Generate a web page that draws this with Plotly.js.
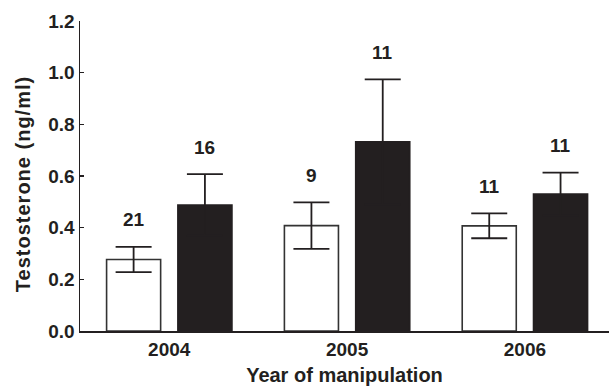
<!DOCTYPE html>
<html>
<head>
<meta charset="utf-8">
<script src="https://cdn.plot.ly/plotly-3.0.1.min.js"></script>
<style>
html,body{margin:0;padding:0;background:#fff;}
#chart{width:609px;height:386px;}
.g-ytitle{transform:translate(0px,8px);}
.g-ytitle text{letter-spacing:1px;}
</style>
</head>
<body>
<div id="chart"></div>
<script>
var years = ['2004', '2005', '2006'];
var controlMean = [0.277, 0.408, 0.407];
var controlErr = [0.049, 0.090, 0.048];
var controlN = [21, 9, 11];
var treatMean = [0.488, 0.732, 0.530];
var treatErr = [0.119, 0.242, 0.083];
var treatN = [16, 11, 11];
var yTicks = [0, 0.2, 0.4, 0.6, 0.8, 1.0, 1.2];

var ink = '#231f20';
var BARGAP = 0.198, GROUPGAP = 0.242;
var slotOffset = (1 - BARGAP) / 4; // centre offset of each bar within a group (category units)

var control = {
  type: 'bar', x: years, y: controlMean, name: 'control',
  marker: {color: '#ffffff', line: {color: '#333333', width: 1.6}},
  error_y: {type: 'data', array: controlErr, visible: true, color: ink, thickness: 1.8, width: 18}
};
var treat = {
  type: 'bar', x: years, y: treatMean, name: 'treatment',
  marker: {color: ink, line: {color: ink, width: 1.6}},
  error_y: {type: 'data', array: treatErr, visible: true, color: ink, thickness: 1.8, width: 18}
};

var annotations = [];
years.forEach(function (yr, i) {
  annotations.push({x: i - slotOffset, y: controlMean[i] + controlErr[i], xref: 'x', yref: 'y',
    text: String(controlN[i]), showarrow: false, yshift: 27, font: {size: 19, color: ink, weight: 700}});
  annotations.push({x: i + slotOffset, y: treatMean[i] + treatErr[i], xref: 'x', yref: 'y',
    text: String(treatN[i]), showarrow: false, yshift: 27, font: {size: 19, color: ink, weight: 700}});
});

var layout = {
  width: 609, height: 386,
  margin: {l: 80, r: 0, t: 21, b: 55},
  paper_bgcolor: '#fff', plot_bgcolor: '#fff',
  font: {family: '"Liberation Sans", Arial, sans-serif', color: ink, size: 19, weight: 700},
  showlegend: false,
  barmode: 'group', bargap: BARGAP, bargroupgap: GROUPGAP,
  xaxis: {
    type: 'category', range: [-0.502, 2.473],
    showline: true, linecolor: ink, linewidth: 2, ticks: '', showgrid: false, zeroline: false,
    tickfont: {size: 19, weight: 700, color: ink},
    title: {text: 'Year of manipulation', font: {size: 20, weight: 700, color: ink}, standoff: 11}
  },
  yaxis: {
    range: [0, 1.2], tickvals: yTicks, tickformat: '.1f',
    showline: true, linecolor: ink, linewidth: 1.5, ticks: 'inside', ticklen: 4, tickwidth: 1.5, tickcolor: ink,
    showgrid: false, zeroline: false,
    tickfont: {size: 19, weight: 700, color: ink},
    title: {text: 'Testosterone (ng/ml)', font: {size: 20, weight: 700, color: ink}, standoff: 12}
  },
  annotations: annotations
};

Plotly.newPlot('chart', [control, treat], layout, {displayModeBar: false, staticPlot: true});
</script>
</body>
</html>
